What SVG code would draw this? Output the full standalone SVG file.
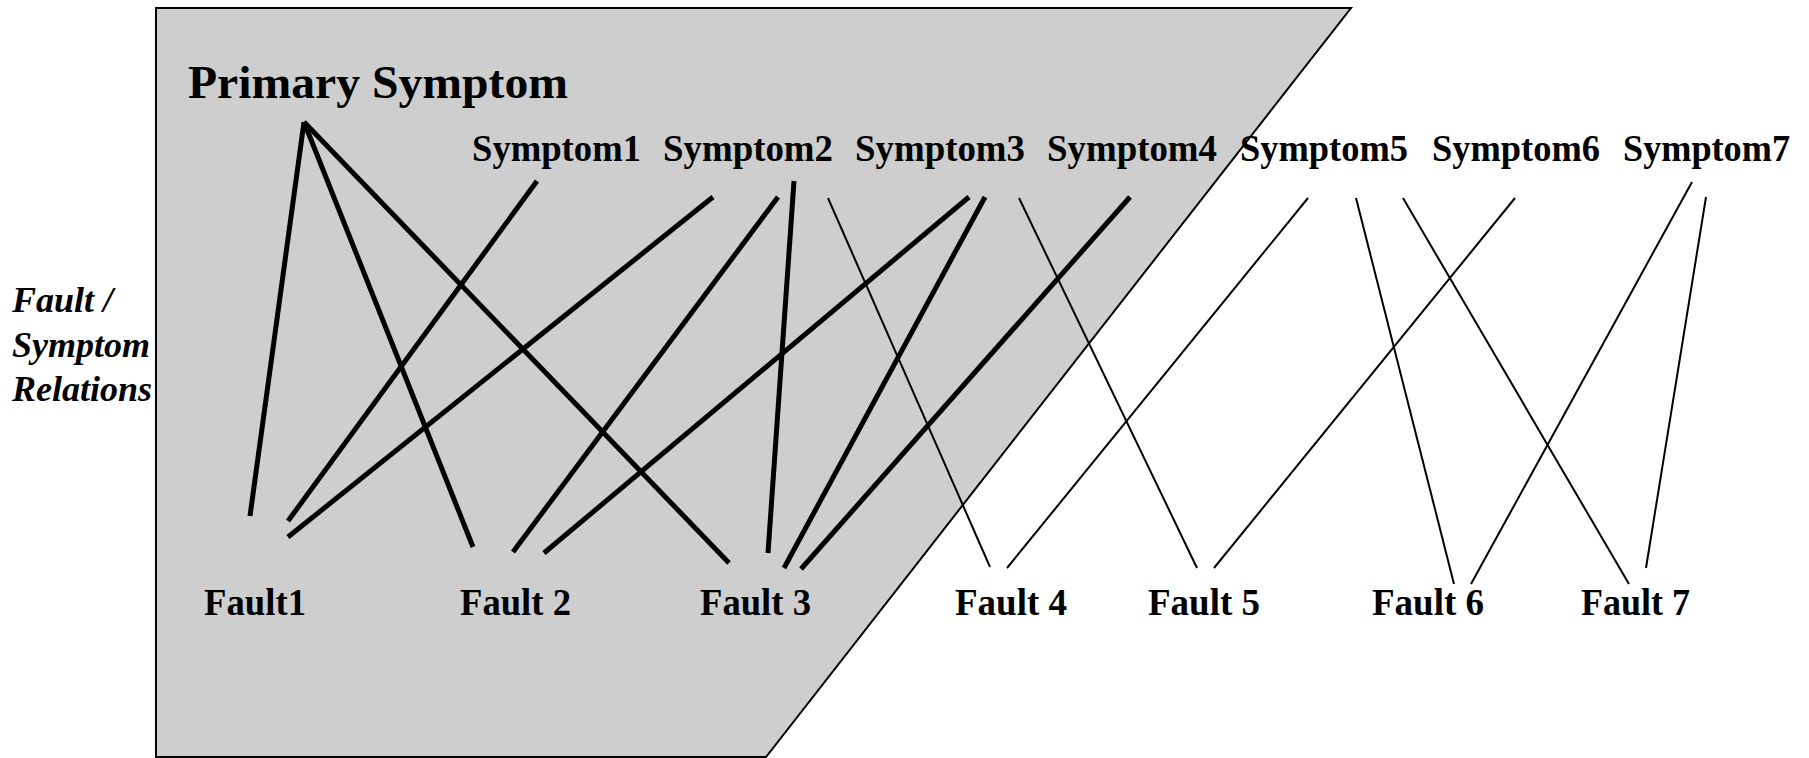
<svg xmlns="http://www.w3.org/2000/svg" width="1809" height="758" viewBox="0 0 1809 758">
<style>
.t{font-family:"Liberation Serif","Times New Roman",serif;font-weight:bold;fill:#000}
.s{font-size:37px}
.f{font-size:37px}
.side{font-family:"Liberation Serif","Times New Roman",serif;font-weight:bold;font-style:italic;font-size:36px;fill:#000}
.thick{stroke:#000;stroke-width:5;fill:none}
.thin{stroke:#000;stroke-width:2;fill:none}
</style>
<rect width="1809" height="758" fill="#fff"/>
<g id="region">
<path d="M156,8 L1351,8 L766,757 L156,757 Z" fill="#cecece" stroke="#000" stroke-width="2"/>
</g>
<g id="side-label">
<text class="side" x="12" y="312">Fault /</text>
<text class="side" x="12" y="357">Symptom</text>
<text class="side" x="12" y="401">Relations</text>
</g>
<g id="primary"><text class="t" x="188" y="98" font-size="47" textLength="380" lengthAdjust="spacingAndGlyphs">Primary Symptom</text></g>
<g id="symptom1"><text class="t s" x="472" y="161" textLength="169" lengthAdjust="spacingAndGlyphs">Symptom1</text></g>
<g id="symptom2"><text class="t s" x="663" y="161" textLength="170" lengthAdjust="spacingAndGlyphs">Symptom2</text></g>
<g id="symptom3"><text class="t s" x="855" y="161" textLength="170" lengthAdjust="spacingAndGlyphs">Symptom3</text></g>
<g id="symptom4"><text class="t s" x="1047" y="161" textLength="170" lengthAdjust="spacingAndGlyphs">Symptom4</text></g>
<g id="symptom5"><text class="t s" x="1240" y="161" textLength="168" lengthAdjust="spacingAndGlyphs">Symptom5</text></g>
<g id="symptom6"><text class="t s" x="1432" y="161" textLength="168" lengthAdjust="spacingAndGlyphs">Symptom6</text></g>
<g id="symptom7"><text class="t s" x="1623" y="161" textLength="167" lengthAdjust="spacingAndGlyphs">Symptom7</text></g>
<g id="fault1"><text class="t f" x="204" y="615" textLength="102" lengthAdjust="spacingAndGlyphs">Fault1</text></g>
<g id="fault2"><text class="t f" x="460" y="615" textLength="111" lengthAdjust="spacingAndGlyphs">Fault 2</text></g>
<g id="fault3"><text class="t f" x="700" y="615" textLength="111" lengthAdjust="spacingAndGlyphs">Fault 3</text></g>
<g id="fault4"><text class="t f" x="955" y="615" textLength="112" lengthAdjust="spacingAndGlyphs">Fault 4</text></g>
<g id="fault5"><text class="t f" x="1148" y="615" textLength="112" lengthAdjust="spacingAndGlyphs">Fault 5</text></g>
<g id="fault6"><text class="t f" x="1372" y="615" textLength="112" lengthAdjust="spacingAndGlyphs">Fault 6</text></g>
<g id="fault7"><text class="t f" x="1581" y="615" textLength="109" lengthAdjust="spacingAndGlyphs">Fault 7</text></g>
<g id="connectors">
<line class="thick" x1="304" y1="122" x2="250" y2="516"/>
<line class="thick" x1="304" y1="122" x2="473" y2="547"/>
<line class="thick" x1="304" y1="122" x2="729" y2="563"/>
<line class="thick" x1="537" y1="181" x2="288" y2="521"/>
<line class="thick" x1="713" y1="197" x2="288" y2="537"/>
<line class="thick" x1="778" y1="197" x2="513" y2="552"/>
<line class="thick" x1="794" y1="181" x2="768" y2="553"/>
<line class="thick" x1="969" y1="197" x2="544" y2="553"/>
<line class="thick" x1="985" y1="197" x2="784" y2="568"/>
<line class="thick" x1="1130" y1="197" x2="801" y2="569" stroke-width="6"/>
<line class="thin" x1="828" y1="198" x2="990" y2="567"/>
<line class="thin" x1="1019" y1="198" x2="1197" y2="568"/>
<line class="thin" x1="1308" y1="198" x2="1007" y2="568"/>
<line class="thin" x1="1356" y1="198" x2="1454" y2="584"/>
<line class="thin" x1="1403" y1="198" x2="1629" y2="584"/>
<line class="thin" x1="1515" y1="198" x2="1214" y2="568"/>
<line class="thin" x1="1692" y1="182" x2="1471" y2="584"/>
<line class="thin" x1="1706" y1="197" x2="1646" y2="568"/>
</g>
</svg>
